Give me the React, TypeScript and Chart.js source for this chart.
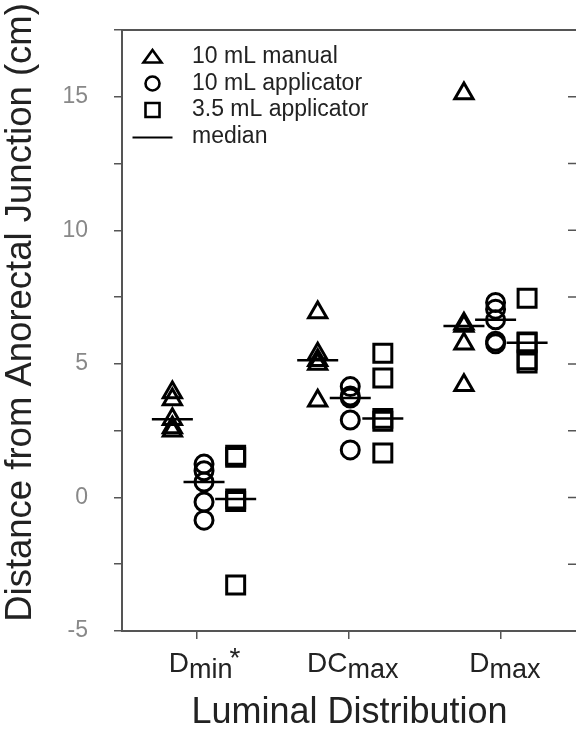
import React, { useEffect, useRef } from 'react';
import { Chart, registerables } from 'chart.js';

Chart.register(...registerables);

const FONT = "'Liberation Sans', Arial, sans-serif";

// x categories (ticks at 1, 2, 3)
const categoryPositions = [1, 2, 3];
const categoryMain = ['D', 'DC', 'D'];
const categorySub = ['min', 'max', 'max'];
const categoryMark = ['*', '', ''];

// y ticks
const yTickValues = [-5, -2.5, 0, 2.5, 5, 7.5, 10, 12.5, 15, 17.5];
const yTickLabels = ['-5', '', '0', '', '5', '', '10', '', '15', ''];

// column positions of each series within the groups
const manualX = [0.841, 1.796, 2.757];
const app10X = [1.049, 2.01, 2.965];
const app35X = [1.257, 2.224, 3.172];

// 10 mL manual (triangles)
const manualDmin = [3.93, 3.67, 2.93, 2.62, 2.5];
const manualDCmax = [6.92, 5.38, 5.14, 5.0, 3.62];
const manualDmax = [15.12, 6.5, 6.42, 5.75, 4.2];
const manualMedians = [2.93, 5.14, 6.42];

// 10 mL applicator (circles)
const app10Dmin = [1.25, 1.0, 0.58, -0.17, -0.85];
const app10DCmax = [4.15, 3.8, 3.72, 2.9, 1.78];
const app10Dmax = [7.3, 7.05, 6.65, 5.85, 5.75];
const app10Medians = [0.58, 3.72, 6.65];

// 3.5 mL applicator (squares)
const app35Dmin = [1.58, 1.5, -0.06, -0.15, -3.28];
const app35DCmax = [5.4, 4.47, 2.96, 2.85, 1.66];
const app35Dmax = [7.46, 5.82, 5.79, 5.15, 5.03];
const app35Medians = [-0.06, 2.96, 5.79];

const legendLabels = ['10 mL manual', '10 mL applicator', '3.5 mL applicator', 'median'];
const yTitle = 'Distance from Anorectal Junction (cm)';
const xTitle = 'Luminal Distribution';

function toPoints(xs: number[], groups: number[][]) {
  const pts: { x: number; y: number }[] = [];
  groups.forEach((vals, g) => vals.forEach((v) => pts.push({ x: xs[g], y: v })));
  return pts;
}
function medianPoints(xs: number[], meds: number[]) {
  return meds.map((m, g) => ({ x: xs[g], y: m }));
}

const framePlugin = {
  id: 'frame',
  afterDraw(chart: any) {
    const { ctx, chartArea: a, scales } = chart;
    const y = scales.y;
    ctx.save();
    ctx.strokeStyle = '#555';
    ctx.lineWidth = 2;
    ctx.beginPath();
    ctx.moveTo(a.left, a.top);
    ctx.lineTo(a.right, a.top);
    ctx.lineTo(a.right, a.bottom);
    ctx.stroke();
    ctx.lineWidth = 1.5;
    ctx.beginPath();
    y.ticks.forEach((t: any) => {
      const py = y.getPixelForValue(t.value);
      ctx.moveTo(a.right - 9, py);
      ctx.lineTo(a.right, py);
    });
    ctx.stroke();
    ctx.restore();
  },
};

const yTitlePlugin = {
  id: 'ytitle',
  afterDraw(chart: any) {
    const { ctx, chartArea: a } = chart;
    ctx.save();
    ctx.translate(21, a.top + (a.bottom - a.top) / 2 - 18);
    ctx.rotate(-Math.PI / 2);
    ctx.fillStyle = '#222';
    ctx.font = `36.5px ${FONT}`;
    ctx.textAlign = 'center';
    ctx.textBaseline = 'middle';
    ctx.fillText(yTitle, 0, 0);
    ctx.restore();
  },
};

const xLabelPlugin = {
  id: 'xlabels',
  afterDraw(chart: any) {
    const { ctx, chartArea: a, scales } = chart;
    const x = scales.x;
    ctx.save();
    ctx.fillStyle = '#222';
    ctx.textBaseline = 'alphabetic';
    ctx.textAlign = 'left';
    const base = a.bottom + 41;
    categoryPositions.forEach((v, i) => {
      const px = x.getPixelForValue(v);
      ctx.font = `28px ${FONT}`;
      const wm = ctx.measureText(categoryMain[i]).width;
      ctx.font = `27px ${FONT}`;
      const ws = ctx.measureText(categorySub[i]).width;
      const start = px - (wm + ws) / 2 + 4;
      ctx.font = `28px ${FONT}`;
      ctx.fillText(categoryMain[i], start, base);
      ctx.font = `27px ${FONT}`;
      ctx.fillText(categorySub[i], start + wm, base + 6);
      if (categoryMark[i]) {
        ctx.font = `28px ${FONT}`;
        ctx.fillText(categoryMark[i], start + wm + ws - 3, base - 5);
      }
    });
    ctx.restore();
  },
};

const legendPlugin = {
  id: 'customLegend',
  afterDraw(chart: any) {
    const { ctx, chartArea: a } = chart;
    ctx.save();
    const mx = a.left + 30.5;
    const tx = a.left + 70;
    ctx.strokeStyle = '#000';
    legendLabels.forEach((label, i) => {
      const cy = a.top + 27 + i * 26.5;
      ctx.lineWidth = 2.6;
      ctx.beginPath();
      if (i === 0) {
        ctx.moveTo(mx, cy - 7);
        ctx.lineTo(mx + 9, cy + 5.5);
        ctx.lineTo(mx - 9, cy + 5.5);
        ctx.closePath();
      } else if (i === 1) {
        ctx.arc(mx, cy, 7, 0, Math.PI * 2);
      } else if (i === 2) {
        ctx.rect(mx - 7, cy - 7, 14, 14);
      } else {
        ctx.moveTo(mx - 20, cy + 1);
        ctx.lineTo(mx + 20, cy + 1);
        ctx.lineWidth = 2;
      }
      ctx.stroke();
      ctx.fillStyle = '#222';
      ctx.font = `23px ${FONT}`;
      ctx.textBaseline = 'middle';
      ctx.fillText(label, tx, cy);
    });
    ctx.restore();
  },
};

export default function App() {
  const ref = useRef<HTMLCanvasElement | null>(null);

  useEffect(() => {
    if (!ref.current) return;
    const marker = {
      borderColor: '#000',
      backgroundColor: 'rgba(0,0,0,0)',
      borderWidth: 3,
    };
    const medianStyle = {
      pointStyle: 'line',
      pointRadius: 20.5,
      borderColor: '#000',
      backgroundColor: '#000',
      borderWidth: 2.5,
    };
    const chart = new Chart(ref.current, {
      type: 'scatter',
      data: {
        datasets: [
          {
            label: '10 mL manual',
            data: toPoints(manualX, [manualDmin, manualDCmax, manualDmax]),
            pointStyle: 'triangle',
            pointRadius: 10.5,
            ...marker,
          },
          {
            label: '10 mL applicator',
            data: toPoints(app10X, [app10Dmin, app10DCmax, app10Dmax]),
            pointStyle: 'circle',
            pointRadius: 9,
            ...marker,
          },
          {
            label: '3.5 mL applicator',
            data: toPoints(app35X, [app35Dmin, app35DCmax, app35Dmax]),
            pointStyle: 'rect',
            pointRadius: 12.7,
            ...marker,
          },
          { label: 'median manual', data: medianPoints(manualX, manualMedians), ...medianStyle },
          { label: 'median 10', data: medianPoints(app10X, app10Medians), ...medianStyle },
          { label: 'median 3.5', data: medianPoints(app35X, app35Medians), ...medianStyle },
        ] as any,
      },
      options: {
        animation: false,
        responsive: false,
        maintainAspectRatio: false,
        events: [],
        layout: { padding: { left: 0, right: 17.5, top: 30, bottom: 0 } },
        plugins: { legend: { display: false }, tooltip: { enabled: false } },
        scales: {
          x: {
            type: 'linear',
            min: 0.51,
            max: 3.5,
            afterBuildTicks: (s: any) => {
              s.ticks = categoryPositions.map((v) => ({ value: v }));
            },
            afterFit: (s: any) => {
              s.height = 119;
              s.paddingLeft = 0;
              s.paddingRight = 0;
            },
            ticks: { display: false },
            grid: { drawOnChartArea: false, drawTicks: true, tickLength: 8, color: '#555', lineWidth: 1.5 },
            border: { display: true, color: '#555', width: 2 },
            title: {
              display: true,
              text: xTitle,
              color: '#222',
              font: { size: 36, family: FONT },
              padding: { top: 0, bottom: 15 },
            },
          },
          y: {
            type: 'linear',
            min: -5,
            max: 17.5,
            afterBuildTicks: (s: any) => {
              s.ticks = yTickValues.map((v) => ({ value: v }));
            },
            afterFit: (s: any) => {
              s.width = 122;
              s.paddingTop = 0;
              s.paddingBottom = 0;
            },
            ticks: {
              autoSkip: false,
              color: '#888',
              padding: 26,
              font: { size: 23, family: FONT },
              callback: (v: any) => {
                const i = yTickValues.indexOf(Number(v));
                return i >= 0 ? yTickLabels[i] : '';
              },
            },
            grid: { drawOnChartArea: false, drawTicks: true, tickLength: 8, color: '#555', lineWidth: 1.5 },
            border: { display: true, color: '#555', width: 2 },
            title: { display: false },
          },
        },
      } as any,
      plugins: [framePlugin, yTitlePlugin, xLabelPlugin, legendPlugin],
    });
    return () => chart.destroy();
  }, []);

  return (
    <div
      style={{
        position: 'fixed',
        left: 0,
        top: 0,
        width: 576,
        height: 750,
        overflow: 'hidden',
        background: '#fff',
      }}
    >
      <canvas ref={ref} width={600} height={750} style={{ display: 'block' }} />
    </div>
  );
}
